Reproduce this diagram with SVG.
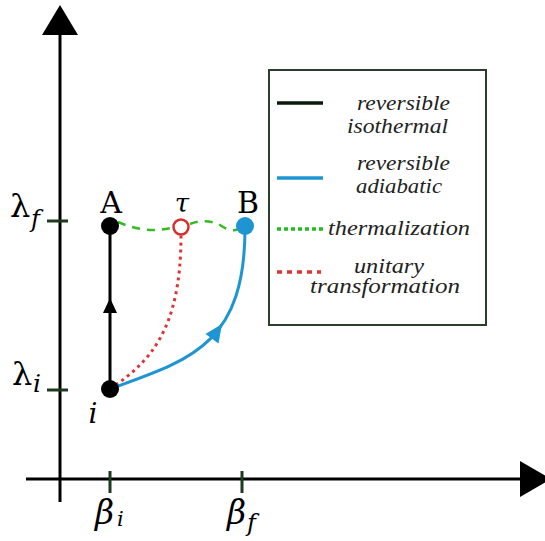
<svg xmlns="http://www.w3.org/2000/svg" width="545" height="541" viewBox="0 0 545 541">
<style>
.ax{stroke:#000;stroke-width:3;fill:none}
.tick{stroke:#1e3a1e;stroke-width:3}
.math{font-family:"DejaVu Serif",serif;font-style:italic;fill:#000}
.rm{font-family:"DejaVu Serif",serif;fill:#000}
.leg{font-family:"Liberation Serif",serif;font-style:italic;font-size:20px;fill:#222}
</style>
<rect width="545" height="541" fill="#fff"/>
<g id="axes">
<line class="ax" x1="60" y1="30" x2="60" y2="502"/>
<polygon points="60,5 42,35 78,35" fill="#000"/>
<line class="ax" x1="26" y1="479" x2="525" y2="479"/>
<polygon points="551,479 520,461 520,497" fill="#000"/>
<line class="tick" x1="110" y1="471" x2="110" y2="493"/>
<line class="tick" x1="242" y1="471" x2="242" y2="493"/>
<line class="tick" x1="47" y1="221" x2="68" y2="221"/>
<line class="tick" x1="47" y1="390" x2="68" y2="390"/>
<text class="rm" x="10" y="217" font-size="32">λ</text>
<text class="math" x="31" y="227" font-size="24">f</text>
<text class="rm" x="12" y="385" font-size="32">λ</text>
<text class="math" x="33" y="392" font-size="25">i</text>
<text class="math" x="95" y="524" font-size="33">β</text>
<text class="math" x="117" y="526" font-size="21">i</text>
<text class="math" x="227" y="524" font-size="33">β</text>
<text class="math" x="247" y="531" font-size="24">f</text>
</g>
<g id="connectors">
<path d="M118,222 Q145,234 171,228" fill="none" stroke="#33bb22" stroke-width="2.5" stroke-dasharray="8,7"/>
<path d="M190,224 Q206,218 220,225 Q232,233 238,229" fill="none" stroke="#33bb22" stroke-width="2.5" stroke-dasharray="8,7"/>
<path d="M110,389 C150,362 181,330 181,235" fill="none" stroke="#dd3333" stroke-width="3" stroke-dasharray="3,4"/>
<line x1="110" y1="389" x2="110" y2="226" stroke="#000" stroke-width="3"/>
<polygon points="110,298 103,313 117,313" fill="#000"/>
<path d="M110,389 C190,360 245,345 245,228" fill="none" stroke="#1e94d2" stroke-width="3"/>
<polygon points="222,324 205.5,334 218.5,343.5" fill="#1e94d2"/>
</g>
<g id="node-A">
<circle cx="110" cy="226" r="9" fill="#000"/>
<text class="rm" x="111" y="213" font-size="30" text-anchor="middle">A</text>
</g>
<g id="node-tau">
<circle cx="181" cy="227" r="7.5" fill="#fff" stroke="#d62d2d" stroke-width="2.5"/>
<text class="math" x="182" y="212" font-size="26" text-anchor="middle">τ</text>
</g>
<g id="node-B">
<circle cx="245" cy="226" r="9" fill="#1e94d2"/>
<text class="rm" x="248" y="213" font-size="30" text-anchor="middle">B</text>
</g>
<g id="node-i">
<circle cx="110" cy="389" r="9" fill="#000"/>
<text class="math" x="93" y="423" font-size="28" text-anchor="middle">i</text>
</g>
<g id="legend">
<rect x="269" y="70" width="217" height="255" fill="#fff" stroke="#2b3d2b" stroke-width="2"/>
<line x1="277" y1="103" x2="323" y2="103" stroke="#0a1a0a" stroke-width="3.5"/>
<line x1="277" y1="178" x2="323" y2="178" stroke="#1e94d2" stroke-width="3.5"/>
<line x1="277" y1="229" x2="324" y2="229" stroke="#22bb22" stroke-width="3.5" stroke-dasharray="4,3"/>
<line x1="277" y1="272" x2="321" y2="272" stroke="#dd3333" stroke-width="3.5" stroke-dasharray="5,5"/>
<text class="leg" x="357" y="110" textLength="93" lengthAdjust="spacingAndGlyphs">reversible</text>
<text class="leg" x="347" y="133" textLength="101" lengthAdjust="spacingAndGlyphs">isothermal</text>
<text class="leg" x="357" y="170" textLength="93" lengthAdjust="spacingAndGlyphs">reversible</text>
<text class="leg" x="356" y="193" textLength="86" lengthAdjust="spacingAndGlyphs">adiabatic</text>
<text class="leg" x="328" y="235" textLength="142" lengthAdjust="spacingAndGlyphs">thermalization</text>
<text class="leg" x="354" y="273" textLength="70" lengthAdjust="spacingAndGlyphs">unitary</text>
<text class="leg" x="310" y="293" textLength="150" lengthAdjust="spacingAndGlyphs">transformation</text>
</g>
</svg>
